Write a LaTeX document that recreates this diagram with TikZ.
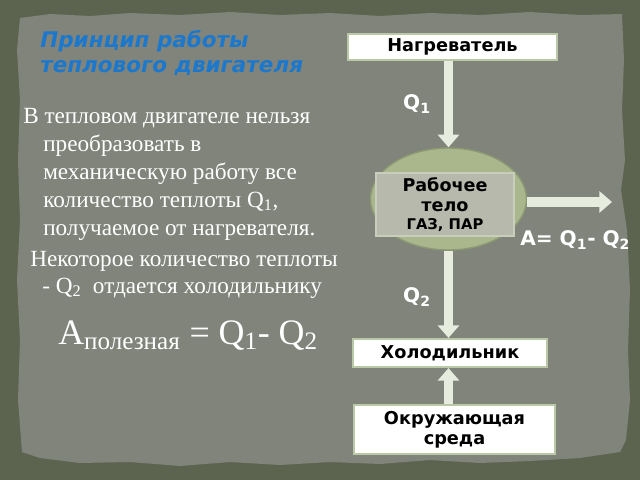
\documentclass[tikz,border=0pt]{standalone}
\usepackage{fontspec}
\setmainfont{Liberation Serif}
\setsansfont{DejaVu Sans}
\usetikzlibrary{positioning,arrows.meta,shapes.geometric}

\definecolor{fon}{RGB}{92,100,80}
\definecolor{bumaga}{RGB}{128,132,122}
\definecolor{sinij}{RGB}{28,120,205}
\definecolor{ramka}{RGB}{185,200,165}
\definecolor{strelka}{RGB}{230,236,222}
\definecolor{oval}{RGB}{170,182,140}
\definecolor{ovalkraj}{RGB}{140,152,115}
\definecolor{telocv}{RGB}{182,185,172}
\definecolor{telokraj}{RGB}{200,206,188}

\tikzset{
  blok/.style={draw=ramka, line width=1.5pt, fill=white, align=center, inner sep=0pt,
    font=\sffamily\bfseries\fontsize{12.6}{14.5}\selectfont},
  potok/.style={draw=strelka, line width=6.5pt, -{Triangle[width=15pt,length=9pt]}},
  metka/.style={text=white, font=\sffamily\bfseries\fontsize{14.3}{16}\selectfont, inner sep=0pt},
  stroka/.style={anchor=base west, text=white, inner sep=0pt, font=\fontsize{16.5}{19}\selectfont},
  zag/.style={anchor=base west, text=sinij, inner sep=0pt, font=\sffamily\bfseries\itshape\fontsize{15.3}{18}\selectfont},
}

\begin{document}
\begin{tikzpicture}[x=0.025cm, y=-0.025cm]
	% Fon
		\useasboundingbox (0,0) rectangle (640,480);
		\fill[fon] (0,0) rectangle (640,480);
		\fill[bumaga] (20,18) -- (50,14) -- (90,16) -- (130,13) -- (180,15) -- (230,12) -- (280,15)
			-- (330,13) -- (380,16) -- (430,13) -- (480,15) -- (530,12) -- (580,15) -- (622,14)
			-- (624,60) -- (622,110) -- (625,160) -- (621,190) -- (627,230) -- (630,290) -- (628,350)
			-- (630,400) -- (626,440) -- (620,452) -- (580,458) -- (530,461) -- (480,463) -- (430,460)
			-- (380,464) -- (330,462) -- (280,465) -- (230,462) -- (180,466) -- (130,462) -- (80,463)
			-- (40,458) -- (22,452) -- (18,400) -- (20,340) -- (17,280) -- (20,220) -- (18,160)
			-- (20,100) -- (17,50) -- cycle;
	% Zagolovok
		\node[zag] (zag1) at (40,47) {Принцип работы};
		\node[zag] (zag2) at (40,72) {теплового двигателя};
	% Tekst
		\node[stroka] (l1) at (23,123) {В тепловом двигателе нельзя};
		\node[stroka] (l2) at (43,151) {преобразовать в};
		\node[stroka] (l3) at (43,179) {механическую работу все};
		\node[stroka] (l4) at (43,207) {количество теплоты Q\textsubscript{1},};
		\node[stroka] (l5) at (43,235) {получаемое от нагревателя.};
		\node[stroka] (l6) at (30,266) {Некоторое количество теплоты};
		\node[stroka] (l7) at (42,293) {- Q\textsubscript{2}\ \ отдается холодильнику};
		\node[stroka, font=\fontsize{25.5}{30}\selectfont] (formula) at (58,344)
			{A\textsubscript{полезная} = Q\textsubscript{1}- Q\textsubscript{2}};
	% Skhema
		\node[blok, minimum width=5.22cm, minimum height=0.65cm] (nagr) at (452.5,47) {Нагреватель};
		\node[ellipse, draw=ovalkraj, fill=oval, line width=1pt, minimum width=3.9cm, minimum height=2.55cm] (telo) at (448.5,199) {};
		\node[draw=telokraj, fill=telocv, line width=1pt, minimum width=3.45cm, minimum height=1.575cm,
			align=center, inner sep=0pt, font=\sffamily\bfseries\fontsize{12.5}{14}\selectfont] (rabtelo) at (445,204.5)
			{Рабочее\\тело\\[-1pt]{\fontsize{10.5}{11}\selectfont ГАЗ, ПАР}};
		\node[blok, minimum width=4.85cm, minimum height=0.7cm] (holod) at (450,353) {Холодильник};
		\node[blok, minimum width=5.025cm, minimum height=1.225cm] (sreda) at (454.5,429.5) {Окружающая\\среда};
		\coordinate (rab) at (612,202);
	% Strelki
		\draw[potok] (nagr.south -| telo.north) -- (telo.north);
		\draw[potok] (telo.east |- rab) -- (rab);
		\draw[potok] (telo.south) -- (telo.south |- holod.north);
		\draw[potok] (sreda.north -| telo.south) -- (holod.south -| telo.south);
	% Metki
		\node[metka] (q1) at (417,104) {Q\textsubscript{1}};
		\node[metka] (q2) at (417,297) {Q\textsubscript{2}};
		\node[metka, anchor=west] (rabota) at (520,240) {A= Q\textsubscript{1}- Q\textsubscript{2}};
\end{tikzpicture}
\end{document}
